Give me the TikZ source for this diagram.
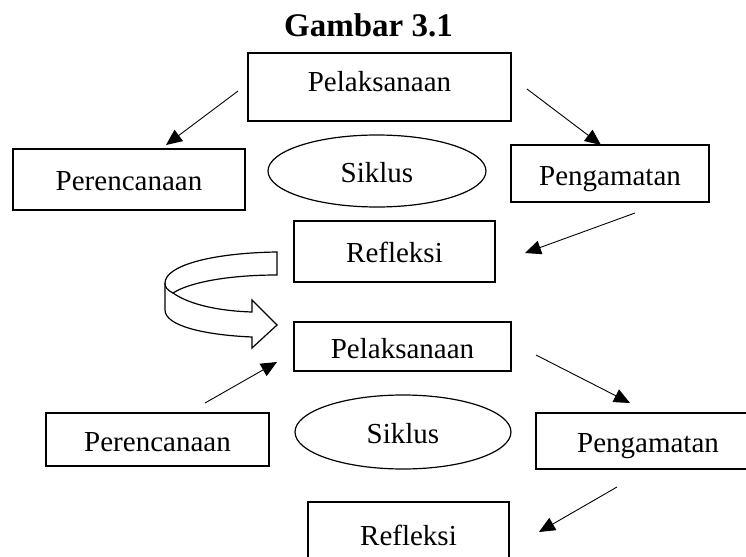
\documentclass[tikz,border=0pt]{standalone}
\usepackage{fontspec}
\setmainfont{Liberation Serif}
\usetikzlibrary{shapes.geometric,arrows.meta}
\begin{document}
\begin{tikzpicture}[x=0.5pt,y=-0.5pt,
  bodyfont/.style={font=\fontsize{14.5}{17}\selectfont, text height=11.5pt, text depth=0pt},
  box/.style={draw, line width=0.6pt, inner sep=0pt, bodyfont},
  ell/.style={ellipse, draw, line width=0.6pt, inner sep=0pt, bodyfont},
  arr/.style={-{Triangle[length=8pt,width=7pt]}, line width=0.45pt}]
\useasboundingbox (0,0) rectangle (746,557);
% title
\node[anchor=base, font=\fontsize{16.5}{19}\selectfont\bfseries] (title) at (368.5,37) {Gambar 3.1};
% first cycle
\node[box, minimum width=131.5pt, minimum height=34pt, text depth=7.5pt] (p1) at (379.5,87) {Pelaksanaan};
\node[box, minimum width=116pt, minimum height=30.5pt] (r1) at (129,179.5) {Perencanaan};
\node[ell, minimum width=109pt, minimum height=36pt] (s1) at (377,171) {Siklus};
\node[box, minimum width=99pt, minimum height=28.5pt] (g1) at (610,173.5) {Pengamatan};
\node[box, minimum width=100.5pt, minimum height=30.5pt, text depth=1pt] (f1) at (394.5,251.5) {Refleksi};
% second cycle
\node[box, minimum width=108.5pt, minimum height=24.5pt] (p2) at (402.5,346.5) {Pelaksanaan};
\node[box, minimum width=111.5pt, minimum height=26.5pt] (r2) at (157.5,439.5) {Perencanaan};
\node[ell, minimum width=108pt, minimum height=37pt] (s2) at (403,432) {Siklus};
\node[box, minimum width=112pt, minimum height=28pt] (g2) at (648,441) {Pengamatan};
\node[box, minimum width=100.5pt, minimum height=44pt, text depth=12.5pt] (f2) at (408.5,546) {Refleksi};
% arrow end points
\coordinate (a1s) at (238,91);  \coordinate (a1e) at (166,145);
\coordinate (a2s) at (527,89);  \coordinate (a2e) at (601,145);
\coordinate (a3s) at (635,213); \coordinate (a3e) at (525,253);
\coordinate (a4s) at (205,403); \coordinate (a4e) at (277,362);
\coordinate (a5s) at (536,355); \coordinate (a5e) at (630,403);
\coordinate (a6s) at (617,487); \coordinate (a6e) at (539,532);
\draw[arr] (a1s) -- (a1e);
\draw[arr] (a2s) -- (a2e);
\draw[arr] (a3s) -- (a3e);
\draw[arr] (a4s) -- (a4e);
\draw[arr] (a5s) -- (a5e);
\draw[arr] (a6s) -- (a6e);
% curved block arrow
\filldraw[fill=white, line width=0.6pt, line join=miter]
  (277,252) .. controls (210,253) and (165,266) .. (165,283)
  -- (165,310)
  .. controls (165,326) and (205,335) .. (252,337)
  -- (252,348) -- (277,325) -- (252,300) -- (252,312)
  .. controls (220,311) and (190,305) .. (173,293)
  .. controls (190,282) and (230,275) .. (277,275)
  -- cycle;
\draw[line width=0.6pt] (173,293) .. controls (167,290) and (165,287) .. (165,283);
\end{tikzpicture}
\end{document}
